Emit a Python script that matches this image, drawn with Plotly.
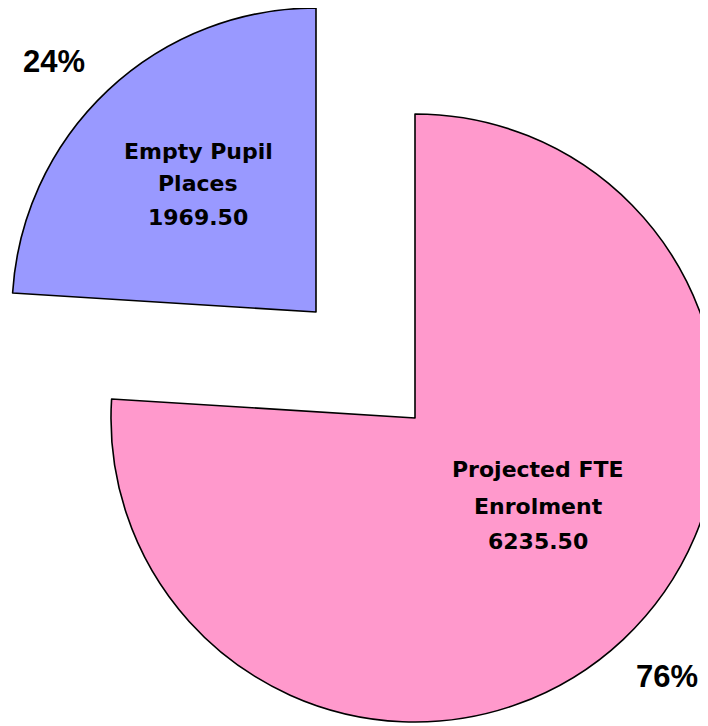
import plotly.graph_objects as go

# ---- data ----
categories = ["Projected FTE Enrolment", "Empty Pupil Places"]
label_lines = [["Projected FTE", "Enrolment"], ["Empty Pupil", "Places"]]
values = [6235.50, 1969.50]
colors = ["#FF99CC", "#9999FF"]

# ---- layout geometry (page pixels; page has an 8px body margin) ----
OFF = 8
W, H = 730, 745
geom = [(415, 418, 304), (316, 312, 304)]          # exploded slice centre / radius
label_pos = [(538, [470, 506, 541]), (198, [151, 184, 217])]
pct_pos = [(667, 676), (54, 61)]


def fx(px):
    return (px - OFF) / W


def fy(py):
    return 1 - (py - OFF) / H


total = sum(values)
fig = go.Figure()
for i, (cx, cy, r) in enumerate(geom):
    fig.add_trace(go.Pie(
        labels=categories,
        values=values,
        sort=False,
        direction="clockwise",
        rotation=0,
        textinfo="none",
        hoverinfo="label+value+percent",
        marker=dict(
            colors=[colors[j] if j == i else "rgba(0,0,0,0)" for j in range(len(values))],
            line=dict(color="black",
                      width=[1.6 if j == i else 0 for j in range(len(values))]),
        ),
        domain=dict(x=[max(0, fx(cx - r)), min(1, fx(cx + r))],
                    y=[max(0, fy(cy + r)), min(1, fy(cy - r))]),
        showlegend=False,
    ))

annotations = []
for i, v in enumerate(values):
    lx, lys = label_pos[i]
    lines = label_lines[i] + [f"{v:.2f}"]
    for txt, ly in zip(lines, lys):
        annotations.append(dict(
            x=fx(lx), y=fy(ly), xref="paper", yref="paper",
            text=f"<b>{txt}</b>", showarrow=False,
            xanchor="center", yanchor="middle",
            font=dict(family="DejaVu Sans", size=22, color="black"),
        ))
    px, py = pct_pos[i]
    annotations.append(dict(
        x=fx(px), y=fy(py), xref="paper", yref="paper",
        text=f"<b>{round(v / total * 100)}%</b>", showarrow=False,
        xanchor="center", yanchor="middle",
        font=dict(family="Liberation Sans", size=31, color="black"),
    ))

fig.update_layout(
    width=W, height=H,
    margin=dict(l=0, r=0, t=0, b=0),
    paper_bgcolor="white",
    plot_bgcolor="white",
    annotations=annotations,
)

fig.write_html("out.html")
